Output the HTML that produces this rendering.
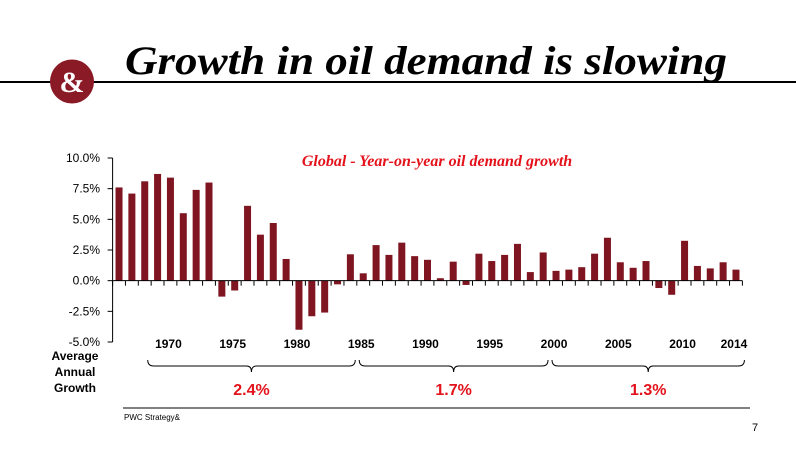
<!DOCTYPE html>
<html><head><meta charset="utf-8"><style>
body{margin:0;width:796px;height:447px;background:#fff;overflow:hidden;font-family:"Liberation Sans",sans-serif}
</style></head><body>
<svg width="796" height="447" viewBox="0 0 796 447">
<line x1="0" y1="82" x2="796" y2="82" stroke="#000" stroke-width="2"/>
<circle cx="72" cy="81.5" r="22" fill="#8a1a25"/>
<text x="72" y="92" text-anchor="middle" font-family="Liberation Serif,serif" font-weight="bold" font-size="30" fill="#fff">&amp;</text>
<text x="125" y="74" font-family="Liberation Serif,serif" font-weight="bold" font-style="italic" font-size="40" fill="#000" textLength="602" lengthAdjust="spacingAndGlyphs">Growth in oil demand is slowing</text>
<text x="437" y="166" text-anchor="middle" font-family="Liberation Serif,serif" font-weight="bold" font-style="italic" font-size="16" fill="#e3121b">Global - Year-on-year oil demand growth</text>
<g id="chart"></g>
<text x="75" y="360" text-anchor="middle" font-weight="bold" font-size="12"><tspan x="75">Average</tspan><tspan x="75" dy="16">Annual</tspan><tspan x="75" dy="16">Growth</tspan></text>
<g id="braces"></g>
<line x1="123" y1="408" x2="750" y2="408" stroke="#000" stroke-width="1"/>
<text x="124" y="420" font-size="8">PWC Strategy&amp;</text>
<text x="752" y="431" font-size="11">7</text>
</svg>
<script>
const years=[1966,1967,1968,1969,1970,1971,1972,1973,1974,1975,1976,1977,1978,1979,1980,1981,1982,1983,1984,1985,1986,1987,1988,1989,1990,1991,1992,1993,1994,1995,1996,1997,1998,1999,2000,2001,2002,2003,2004,2005,2006,2007,2008,2009,2010,2011,2012,2013,2014];
const growth=[7.6,7.1,8.1,8.7,8.4,5.5,7.4,8.0,-1.3,-0.8,6.1,3.75,4.7,1.77,-4.0,-2.9,-2.6,-0.3,2.15,0.6,2.9,2.1,3.1,2.0,1.7,0.2,1.55,-0.35,2.2,1.6,2.1,3.0,0.7,2.3,0.8,0.9,1.1,2.2,3.5,1.5,1.05,1.6,-0.6,-1.15,3.25,1.2,1.0,1.5,0.9];
const yTicks=[10,7.5,5,2.5,0,-2.5,-5];
const xLabelYears=[1970,1975,1980,1985,1990,1995,2000,2005,2010,2014];
const periodStart=[1968,1985,2000];
const periodEnd=[1985,2000,2014];
const periodAvg=["2.4%","1.7%","1.3%"];
const NS="http://www.w3.org/2000/svg";
const g=document.getElementById('chart'),bg=document.getElementById('braces');
const x0=112.6,x1=742.4,yTop=158,yBot=342,vMax=10,vMin=-5;
const slot=(x1-x0)/years.length;
const y=v=>yTop+(vMax-v)/(vMax-vMin)*(yBot-yTop);
const xc=i=>x0+(i+0.5)*slot;
const xy=yr=>xc(years.indexOf(yr));
function mk(t,a,p){const e=document.createElementNS(NS,t);for(const k in a)e.setAttribute(k,a[k]);(p||g).appendChild(e);return e;}
let ax=mk('line',{x1:x0,y1:yTop,x2:x0,y2:yBot,stroke:'#000','stroke-width':1});


yTicks.forEach(v=>{
 const t=mk('line',{x1:x0-5,y1:y(v),x2:x0,y2:y(v),stroke:'#000'});
 
 
 const l=mk('text',{x:100,y:y(v)+4,'text-anchor':'end','font-size':12});
 l.textContent=v.toFixed(1)+'%';
 
 
});
growth.forEach((v,i)=>{
 const b=mk('rect',{x:xc(i)-3.5,y:Math.min(y(v),y(0)),width:7,height:Math.abs(y(v)-y(0)),fill:'#7f1520'});
 
 
});
let xa=mk('line',{x1:x0,y1:y(0),x2:x1,y2:y(0),stroke:'#000','stroke-width':1});


for(let i=0;i<=years.length;i++){
 const t=mk('line',{x1:x0+i*slot,y1:y(0),x2:x0+i*slot,y2:y(0)+5,stroke:'#000'});
 
 
}
xLabelYears.forEach(yr=>{
 const l=mk('text',{x:xy(yr)-2,y:348,'text-anchor':'middle','font-size':12,'font-weight':'bold'});
 l.textContent=yr;
 
 
});
periodAvg.forEach((avg,k)=>{
 const L=k===0?xy(periodStart[k])+3:xy(periodStart[k])-4;
 const R=k===periodEnd.length-1?x1+2:xy(periodEnd[k])-8;
 const m=(L+R)/2;
 const path=mk('path',{d:`M${L} 360 Q${L} 366 ${L+6} 366 L${m-5} 366 Q${m} 366 ${m} 372 Q${m} 366 ${m+5} 366 L${R-6} 366 Q${R} 366 ${R} 360`,fill:'none',stroke:'#000','stroke-width':1},bg);
 
 
 const t=mk('text',{x:m,y:395,'text-anchor':'middle','font-size':16,'font-weight':'bold',fill:'#e3121b'},bg);
 t.textContent=avg;
 
 
});
</script>
</body></html>
